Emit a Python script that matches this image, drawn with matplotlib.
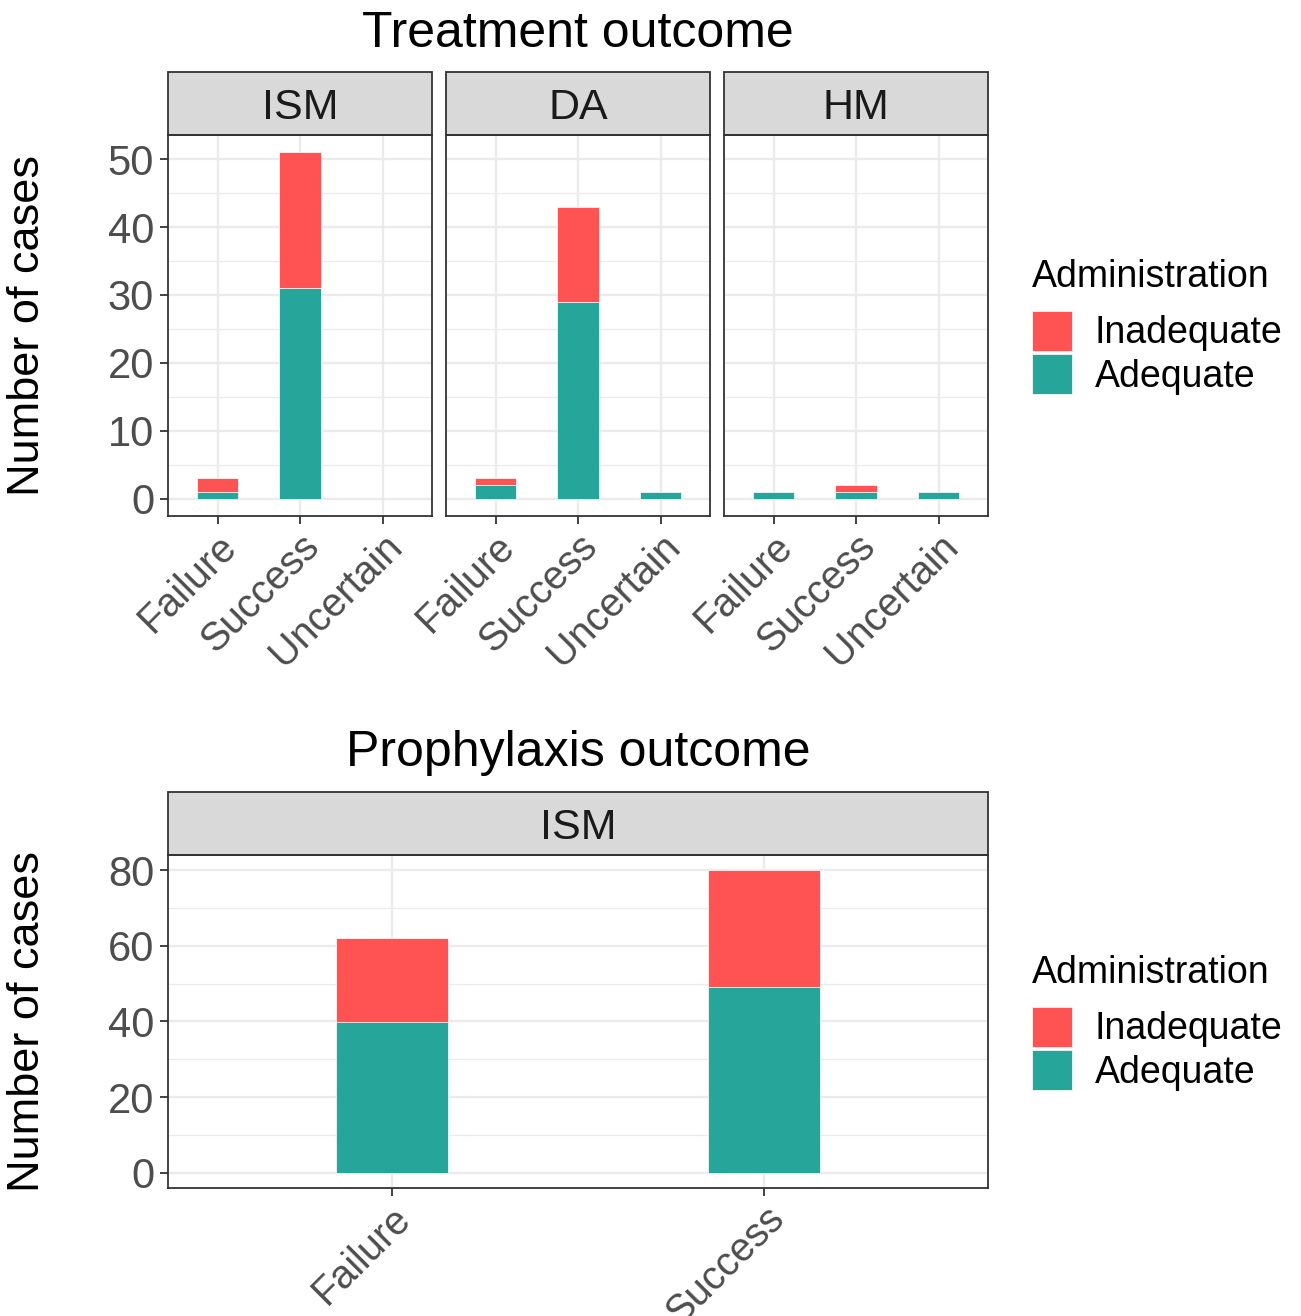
import numpy as np
import matplotlib.pyplot as plt
from matplotlib.patches import Rectangle, Patch

plt.rcParams['font.family'] = ['Liberation Sans', 'DejaVu Sans']

# data
outcomes = ['Failure', 'Success', 'Uncertain']
facets = ['ISM', 'DA', 'HM']
ism_adequate = [1, 31, 0]
ism_inadequate = [2, 20, 0]
da_adequate = [2, 29, 1]
da_inadequate = [1, 14, 0]
hm_adequate = [1, 1, 1]
hm_inadequate = [0, 1, 0]

proph_outcomes = ['Failure', 'Success']
proph_adequate = [40, 49]
proph_inadequate = [22, 31]

levels = ['Inadequate', 'Adequate']
RED = '#FF5252'
TEAL = '#26A69A'

W, H = 1301, 1316
fig = plt.figure(figsize=(W / 100, H / 100), dpi=100)


def fx(px):
    return px / W


def fy(px):
    return 1 - px / H


def style_panel(ax, label, strip_px, body_px, show_y=True):
    ax.set_facecolor('white')
    for s in ax.spines.values():
        s.set_color('#333333')
        s.set_linewidth(1.3)
    ax.set_axisbelow(True)
    ax.grid(which='major', color='#EBEBEB', linewidth=1.7)
    ax.grid(which='minor', axis='y', color='#EBEBEB', linewidth=0.9)
    ax.tick_params(which='major', length=6, width=1.3, color='#333333',
                   labelsize=30, labelcolor='#4D4D4D', pad=4)
    ax.tick_params(axis='x', labelsize=28.5, pad=2)
    ax.tick_params(which='minor', length=0)
    if not show_y:
        ax.tick_params(axis='y', which='both', length=0, labelleft=False)
    frac = strip_px / body_px
    ax.add_patch(Rectangle((0, 1), 1, frac, transform=ax.transAxes, clip_on=False,
                           facecolor='#D9D9D9', edgecolor='#333333', linewidth=1.3))
    ax.text(0.5, 1 + frac / 2, label, transform=ax.transAxes, ha='center',
            va='center_baseline', fontsize=31, color='#1A1A1A')
    plt.setp(ax.get_xticklabels(), rotation=45, ha='right', va='top',
             rotation_mode='anchor')


def stacked(ax, x, adequate, inadequate, width):
    adequate = np.array(adequate)
    inadequate = np.array(inadequate)
    m = adequate > 0
    ax.bar(x[m], adequate[m], width=width, color=TEAL, edgecolor='white', linewidth=0.5)
    m = inadequate > 0
    ax.bar(x[m], inadequate[m], bottom=adequate[m], width=width, color=RED,
           edgecolor='white', linewidth=0.5)


# ---- Treatment outcome ----
top_data = {'ISM': (ism_adequate, ism_inadequate),
            'DA': (da_adequate, da_inadequate),
            'HM': (hm_adequate, hm_inadequate)}
panel_left = [168, 446, 724]
x = np.arange(len(outcomes))
for i, name in enumerate(facets):
    ax = fig.add_axes([fx(panel_left[i]), fy(516), fx(264), (516 - 135) / H])
    ad, inad = top_data[name]
    stacked(ax, x, ad, inad, 0.5)
    ax.set_xlim(-0.6, 2.6)
    ax.set_ylim(-2.55, 53.55)
    ax.set_xticks(x)
    ax.set_xticklabels(outcomes)
    ax.set_yticks([0, 10, 20, 30, 40, 50])
    ax.set_yticks(np.arange(5, 55, 10), minor=True)
    style_panel(ax, name, 63, 381, show_y=(i == 0))

fig.text(fx(578), fy(47), 'Treatment outcome', ha='center', va='baseline',
         fontsize=36, color='black')
fig.text(fx(28), fy(326), 'Number of cases', rotation=90, ha='center', va='center',
         fontsize=32.5, color='black')

# ---- Prophylaxis outcome ----
ax2 = fig.add_axes([fx(168), fy(1188), fx(820), (1188 - 855) / H])
x2 = np.arange(len(proph_outcomes))
stacked(ax2, x2, proph_adequate, proph_inadequate, 0.3)
ax2.set_xlim(-0.6, 1.6)
ax2.set_ylim(-4, 84)
ax2.set_xticks(x2)
ax2.set_xticklabels(proph_outcomes)
ax2.set_yticks([0, 20, 40, 60, 80])
ax2.set_yticks([10, 30, 50, 70], minor=True)
style_panel(ax2, 'ISM', 63, 333)

fig.text(fx(578), fy(766), 'Prophylaxis outcome', ha='center', va='baseline',
         fontsize=36, color='black')
fig.text(fx(28), fy(1022), 'Number of cases', rotation=90, ha='center', va='center',
         fontsize=32.5, color='black')

# ---- legends ----
handles = [Patch(facecolor=RED, edgecolor='white', linewidth=0.5),
           Patch(facecolor=TEAL, edgecolor='white', linewidth=0.5)]
for title_y, key_top in [(287, 311), (983, 1007)]:
    fig.text(fx(1032), fy(title_y), 'Administration', ha='left', va='baseline',
             fontsize=27, color='black')
    fig.legend(handles, levels, loc='upper left',
               bbox_to_anchor=(fx(1032), fy(key_top)), frameon=False,
               fontsize=27, handlelength=1.07, handleheight=1.25,
               handletextpad=0.6, labelspacing=0.08, borderpad=0,
               borderaxespad=0)

fig.savefig('out.png', dpi=100, facecolor='white')
